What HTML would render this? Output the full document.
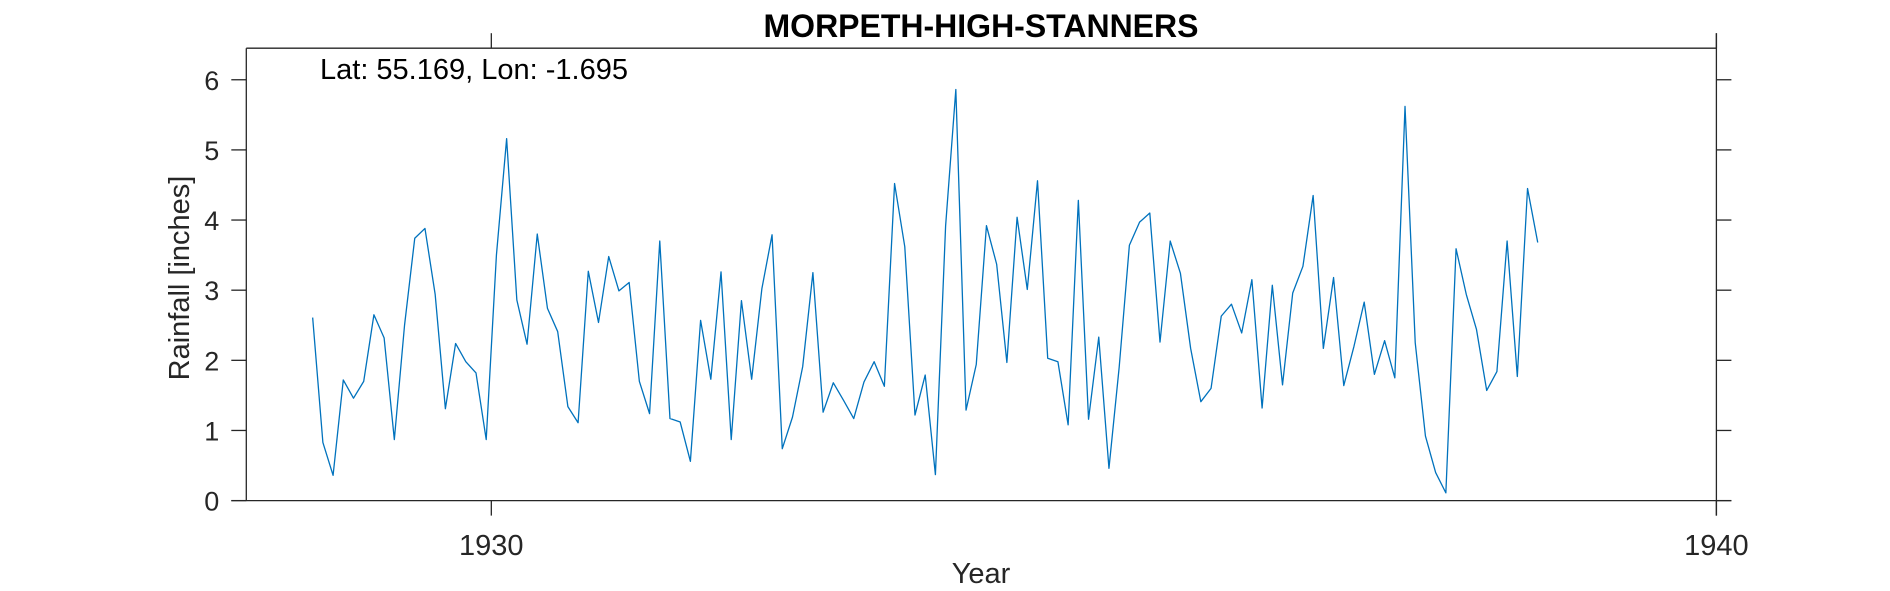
<!DOCTYPE html>
<html><head><meta charset="utf-8"><style>
html,body{margin:0;padding:0;background:#fff;}
svg{display:block;font-family:"Liberation Sans",Arial,sans-serif;}
</style></head><body>
<svg id="chart" width="1890" height="591" viewBox="0 0 1890 591" xmlns="http://www.w3.org/2000/svg">
<text x="981" y="37" text-anchor="middle" font-size="32" font-weight="bold" fill="#000">MORPETH-HIGH-STANNERS</text>
<g id="axes"></g>
<path id="series" fill="none" stroke="#0072BD" stroke-width="1.3" stroke-linejoin="round"/>
<text x="320" y="79" font-size="29" fill="#000">Lat: 55.169, Lon: -1.695</text>
<text x="981" y="583" text-anchor="middle" font-size="29" fill="#262626">Year</text>
<text x="0" y="0" transform="translate(189,278) rotate(-90)" text-anchor="middle" font-size="29" fill="#262626">Rainfall [inches]</text>
</svg>
<script>
const startYear = 1928 + 6.5/12;
const rainfall = [2.61,0.83,0.36,1.72,1.46,1.70,2.65,2.32,0.87,2.5,3.74,3.88,2.94,1.31,2.24,1.98,1.82,0.87,3.5,5.16,2.86,2.23,3.80,2.74,2.41,1.34,1.11,3.27,2.54,3.48,2.99,3.11,1.70,1.24,3.70,1.17,1.12,0.56,2.57,1.73,3.26,0.87,2.85,1.73,3.02,3.79,0.74,1.19,1.91,3.25,1.26,1.68,1.43,1.17,1.69,1.98,1.63,4.52,3.62,1.22,1.79,0.37,3.92,5.86,1.29,1.94,3.92,3.37,1.97,4.04,3.01,4.56,2.03,1.98,1.08,4.28,1.16,2.33,0.46,1.9,3.64,3.97,4.10,2.26,3.70,3.24,2.17,1.41,1.60,2.63,2.80,2.39,3.15,1.32,3.07,1.65,2.96,3.34,4.35,2.17,3.18,1.64,2.2,2.83,1.80,2.28,1.75,5.62,2.25,0.92,0.40,0.11,3.59,2.94,2.44,1.57,1.84,3.70,1.77,4.45,3.68];
const xTicks = [1930, 1940];
const yTicks = [0,1,2,3,4,5,6];
const xMin = 1928, xMax = 1940, yMin = 0, yMax = 6.45;
const L = 246.3, R = 1716.4, T = 48.2, B = 500.6;
const sx = v => L + (v - xMin) / (xMax - xMin) * (R - L);
const sy = v => B - (v - yMin) / (yMax - yMin) * (B - T);
const NS = "http://www.w3.org/2000/svg";
const axes = document.getElementById('axes');
function line(x1,y1,x2,y2,name){
  const l = document.createElementNS(NS,'line');
  l.setAttribute('x1',x1);l.setAttribute('y1',y1);l.setAttribute('x2',x2);l.setAttribute('y2',y2);
  l.setAttribute('stroke','#262626');l.setAttribute('stroke-width','1.3');
  
  
  axes.appendChild(l);
}
line(L,T,R,T,'top-axis-line');
line(L,T,L,B,'left-axis-line');
line(L-15,B,R+15,B,'x-axis-line');
line(R,T-15,R,B+15,'right-axis-line');
yTicks.forEach(v=>{
  const y = sy(v);
  line(L-15,y,L,y,'y-tick');
  line(R,y,R+15,y,'y-tick-right');
  const t = document.createElementNS(NS,'text');
  t.setAttribute('x', L-27); t.setAttribute('y', y+10);
  t.setAttribute('text-anchor','end'); t.setAttribute('font-size','27'); t.setAttribute('fill','#262626');
  t.textContent = v;
  
  
  axes.appendChild(t);
});
xTicks.forEach(v=>{
  const x = sx(v);
  line(x,B,x,B+15,'x-tick');
  line(x,T-15,x,T,'x-tick-top');
  const t = document.createElementNS(NS,'text');
  t.setAttribute('x', x); t.setAttribute('y', 555);
  t.setAttribute('text-anchor','middle'); t.setAttribute('font-size','29'); t.setAttribute('fill','#262626');
  t.textContent = v;
  
  
  axes.appendChild(t);
});
document.getElementById('series').setAttribute('d',
  rainfall.map((v,i)=>(i?'L':'M')+sx(startYear+i/12).toFixed(2)+','+sy(v).toFixed(2)).join(' '));
</script>
</body></html>
